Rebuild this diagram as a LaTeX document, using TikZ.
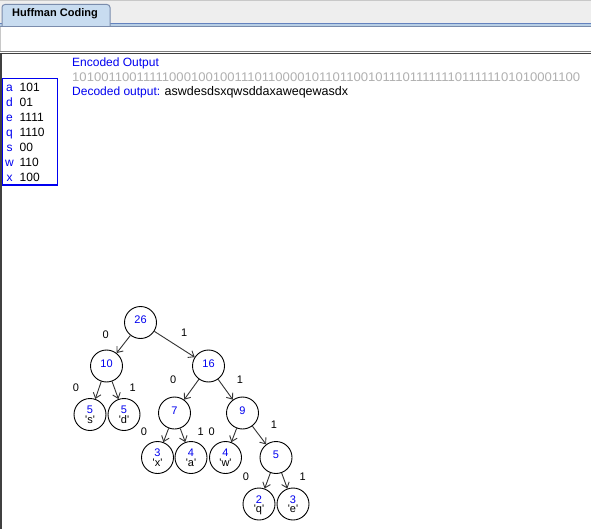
\documentclass[tikz,border=0pt]{standalone}
\usepackage{fontspec}
\setmainfont{Liberation Sans}
\newfontfamily\plainsans{Liberation Sans}
\usetikzlibrary{arrows.meta}
\definecolor{bandgray}{HTML}{EEEEEE}
\definecolor{rulegray}{HTML}{C8C8C8}
\definecolor{tabblue}{HTML}{C8DCF0}
\definecolor{tabedge}{HTML}{7A8CAC}
\definecolor{lineblue}{HTML}{6382BF}
\definecolor{paleblue}{HTML}{B8CFE5}
\definecolor{bitgray}{HTML}{B0B0B0}
\definecolor{keyblue}{HTML}{0000F0}
\tikzset{>={Straight Barb[length=5pt,width=8pt]}}
\tikzset{
  huff/.style={draw=black, line width=0.9pt, circle, minimum size=32pt, inner sep=0pt,
    align=center, text height=6pt, text depth=4pt, text=keyblue,
    font=\plainsans\fontsize{11}{8}\selectfont},
  huffleaf/.style={huff, text height=19pt, text depth=2pt,
    font=\plainsans\fontsize{11}{9.5}\selectfont},
  bit/.style={font=\fontsize{11}{13}\selectfont, inner sep=0pt},
  branch/.style={->, line width=0.9pt, draw=black!80},
  ui/.style={font=\fontsize{12}{14}\selectfont, inner sep=0pt, anchor=base west}
}

\begin{document}
\begin{tikzpicture}[x=1pt, y=-1pt]
\useasboundingbox (0,0) rectangle (591,529);
\fill[white] (0,0) rectangle (591,529);
% tab bar
\fill[bandgray] (0,0) rectangle (591,23);
\draw[rulegray, line width=1pt] (0,1) -- (591,1);
\fill[paleblue] (0,23) rectangle (591,27);
\draw[lineblue, line width=1pt] (0,23.5) -- (591,23.5);
\filldraw[fill=tabblue, draw=tabedge, line width=1pt, rounded corners=3pt] (2,26) -- (2,4.5) -- (110,4.5) -- (110,26);
\draw[tabedge, line width=1pt] (0,26.5) -- (591,26.5);
\node[font=\bfseries\fontsize{11}{13}\selectfont] (tab) at (55,14) {Huffman Coding};
\draw[rulegray, line width=1pt] (0.5,27) -- (0.5,51);
\draw[gray, line width=1pt] (0,51.5) -- (591,51.5);
\draw[black!75, line width=1pt] (0,53.5) -- (591,53.5);
\draw[black!75, line width=1.5pt] (0.75,53) -- (0.75,529);

% output texts
\node[ui, text=bitgray, font=\fontsize{12.5}{14}\selectfont] (bits) at (72,82)
  {\scalebox{1.047}[1]{1010011001111100010010011101100001011011001011101111111011111101010001100}};
\node[ui, text=keyblue] (enc) at (72,67) {Encoded Output};
\node[ui, text=keyblue] (dec) at (72,96)
  {Decoded output: \textcolor{black}{\fontsize{12.5}{14}\selectfont aswdesdsxqwsddaxaweqewasdx}};

% code table
\draw[keyblue, line width=1.3pt] (2.5,78.5) rectangle (57.5,185);
\foreach \k/\v [count=\i] in {a/101, d/01, e/1111, q/1110, s/00, w/110, x/100}{
  \node[ui, anchor=base, text=keyblue] (key\k) at (9.5,76.5+15*\i) {\k};
  \node[ui] (code\k) at (19.5,76.5+15*\i) {\v};
}

% tree
\node[huff] (n26) at (140.5,322.5) {26};
\node[huff] (n10) at (106.5,366) {10};
\node[huff] (n16) at (208.5,366) {16};
\node[huffleaf] (ns) at (90,414.5) {5\\\textcolor{black}{'s'}};
\node[huffleaf] (nd) at (124,414.5) {5\\\textcolor{black}{'d'}};
\node[huff] (n7) at (174.5,413) {7};
\node[huff] (n9) at (242.5,413) {9};
\node[huffleaf] (nx) at (157.5,457.5) {3\\\textcolor{black}{'x'}};
\node[huffleaf] (na) at (191,457.5) {4\\\textcolor{black}{'a'}};
\node[huffleaf] (nw) at (225.5,457.5) {4\\\textcolor{black}{'w'}};
\node[huff] (n5) at (276,457.5) {5};
\node[huffleaf] (nq) at (259,504) {2\\\textcolor{black}{'q'}};
\node[huffleaf] (ne) at (293,504) {3\\\textcolor{black}{'e'}};

\draw[branch] (n26) -- (n10);
\draw[branch] (n26) -- (n16);
\draw[branch] (n10) -- (ns);
\draw[branch] (n10) -- (nd);
\draw[branch] (n16) -- (n7);
\draw[branch] (n16) -- (n9);
\draw[branch] (n7) -- (nx);
\draw[branch] (n7) -- (na);
\draw[branch] (n9) -- (nw);
\draw[branch] (n9) -- (n5);
\draw[branch] (n5) -- (nq);
\draw[branch] (n5) -- (ne);

\node[bit] (b26l) at (105.7,335) {0};
\node[bit] (b26r) at (184.3,332.3) {1};
\node[bit] (b10l) at (76,387.3) {0};
\node[bit] (b10r) at (132.7,387.3) {1};
\node[bit] (b16l) at (173.3,380) {0};
\node[bit] (b16r) at (240,380) {1};
\node[bit] (b7l) at (144,431.7) {0};
\node[bit] (b7r) at (200.7,431.7) {1};
\node[bit] (b9l) at (211.7,431.7) {0};
\node[bit] (b9r) at (274,425) {1};
\node[bit] (b5l) at (246,476.7) {0};
\node[bit] (b5r) at (302.7,476.7) {1};
\end{tikzpicture}
\end{document}
